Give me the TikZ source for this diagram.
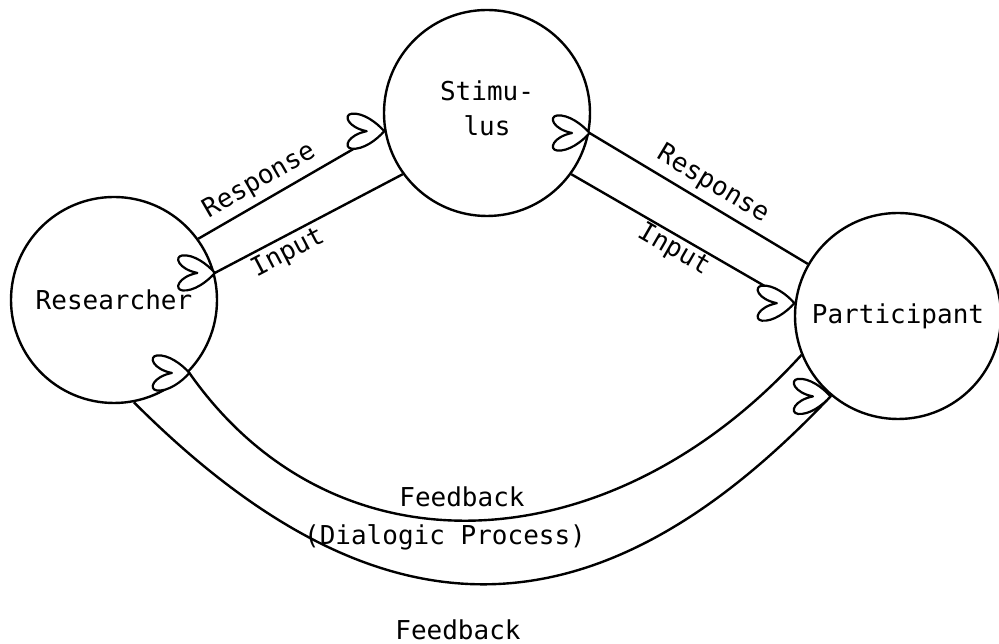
\documentclass[tikz,border=0pt]{standalone}
\usepackage{fontspec}
\setmonofont{DejaVu Sans Mono}
\usetikzlibrary{calc, positioning, decorations.markings}
\tikzset{
  openhead/.pic={
    \draw[line width=2.2pt, fill=white, line join=round]
      (0,0) .. controls (-6pt,7pt) and (-17pt,15pt) .. (-26pt,14pt)
      .. controls (-33pt,13pt) and (-29pt,3pt) .. (-14pt,0)
      .. controls (-29pt,-3pt) and (-33pt,-13pt) .. (-26pt,-14pt)
      .. controls (-17pt,-15pt) and (-6pt,-7pt) .. (0,0) -- cycle;
  },
  flow/.style={postaction={decorate},
    decoration={markings, mark=at position 0.999 with {\pic[scale=1.25] {openhead};}}}
}

\begin{document}
\begin{tikzpicture}[x=1pt, y=1pt, line width=2.4pt,
  every node/.style={font=\ttfamily\fontsize{26}{35}\selectfont},
  party/.style={draw, circle, minimum size=206pt, inner sep=0pt},
  lbl/.style={sloped, inner sep=6pt}]
  \useasboundingbox (0,0) rectangle (999,644);
  \node[party] (res)  at (114, 344) {Researcher};
  \node[party] (stim) at (487, 531) [align=center] {Stimu-\\lus\strut};
  \node[party] (part) at (898, 328) {Participant};

  % left pair
  \path
    (res.36)   edge[flow] node[lbl, above, pos=0.38] {Response} (stim.190)
    (stim.216) edge[flow] node[lbl, below, pos=0.65, inner sep=3pt] {Input} (res.15);
  % right pair
  \path
    (part.150) edge[flow] node[lbl, above, pos=0.48] {Response} (stim.-11)
    (stim.-36) edge[flow] node[lbl, below, pos=0.49, inner sep=1pt] {Input} (part.173);

  % feedback loop
  \draw[flow] (part.202) .. controls +(-190,-209) and +(146,-209) .. (res.-44);
  \draw[flow] (res.-79) .. controls +(247,-247) and +(-233,-247) .. (part.230);
  \node (fbup)  at (462, 147) {Feedback};
  \node (dial)  at (445, 107) {(Dialogic Process)};
  \node (fblow) at (458, 14)  {Feedback};
\end{tikzpicture}
\end{document}
